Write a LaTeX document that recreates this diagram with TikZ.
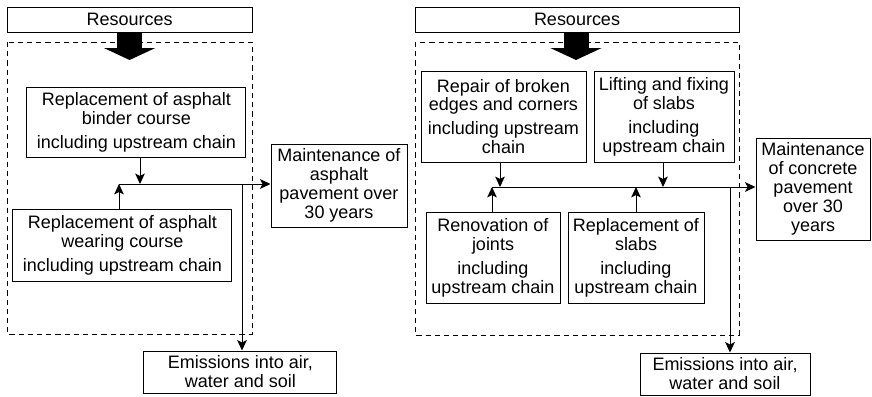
\documentclass[tikz,border=0pt]{standalone}
\usepackage{fontspec}
\setmainfont{Liberation Sans}
\usetikzlibrary{arrows.meta, positioning}

\begin{document}
\begin{tikzpicture}[
    font=\fontsize{12.8}{13.5}\selectfont,
    stage/.style={draw, line width=0.7pt, align=center, inner sep=0pt},
    frame/.style={line width=0.7pt, dash pattern=on 0.13cm off 0.1cm},
    flow/.style={line width=0.7pt, -{Stealth[length=0.26cm, width=0.24cm, inset=0.06cm]}},
    bigflow/.style={line width=0.625cm, -{Triangle[length=0.3cm, width=1.275cm]}}
  ]
    \useasboundingbox (0,0) rectangle (21.8,-9.9);

    % asphalt pavement
    \node[stage, minimum width=6.125cm, minimum height=0.625cm] (res1) at (3.24,-0.49) {Resources};
    \draw[frame] (0.175,-1.05) rectangle (6.3,-8.35);
    \coordinate (in1) at (3.24,-1.5);
    \draw[bigflow] (res1.south) -- (in1);
    \node[stage, minimum width=5.475cm, minimum height=1.75cm] (binder) at (3.41,-3.05)
        {Replacement of asphalt\\binder course\\[3.5pt]including upstream chain};
    \node[stage, minimum width=5.475cm, minimum height=1.8cm] (wearing) at (3.06,-6.125)
        {Replacement of asphalt\\wearing course\\[3.5pt]including upstream chain};
    \node[stage, minimum width=3.4cm, minimum height=2.075cm] (maint1) at (8.475,-4.6375)
        {Maintenance of\\asphalt\\pavement over\\30 years};
    \node[stage, minimum width=4.825cm, minimum height=1.05cm] (emis1) at (6.01,-9.3)
        {Emissions into air,\\water and soil};
    \coordinate (jL) at (2.975,-4.6);
    \coordinate (jB) at (3.5,-4.6);
    \coordinate (jE) at (6.05,-4.6);
    \draw[flow] (binder.south -| jB) -- (jB);
    \draw[flow] (wearing.north -| jL) -- (jL);
    \draw[flow] (jL) -- (jL -| maint1.west);
    \draw[flow] (jE) -- (jE |- emis1.north);

    % concrete pavement
    \node[stage, minimum width=8.1cm, minimum height=0.625cm] (res2) at (14.425,-0.49) {Resources};
    \draw[frame] (10.375,-1.05) rectangle (18.475,-8.375);
    \coordinate (in2) at (14.4,-1.5);
    \draw[bigflow] (res2.south -| in2) -- (in2);
    \node[stage, minimum width=4.125cm, minimum height=2.275cm] (repair) at (12.5875,-2.9125)
        {Repair of broken\\edges and corners\\[3.5pt]including upstream\\chain};
    \node[stage, minimum width=3.5cm, minimum height=2.275cm] (lifting) at (16.6,-2.9125)
        {Lifting and fixing\\of slabs\\[3.5pt]including\\upstream chain};
    \node[stage, minimum width=3.35cm, minimum height=2.275cm] (joints) at (12.325,-6.4375)
        {Renovation of\\joints\\[3.5pt]including\\upstream chain};
    \node[stage, minimum width=3.4cm, minimum height=2.275cm] (slabs) at (15.9,-6.4375)
        {Replacement of\\slabs\\[3.5pt]including\\upstream chain};
    \node[stage, minimum width=2.85cm, minimum height=2.55cm] (maint2) at (20.325,-4.725)
        {Maintenance\\of concrete\\pavement\\over 30\\years};
    \node[stage, minimum width=4.25cm, minimum height=1.05cm] (emis2) at (18.125,-9.35)
        {Emissions into air,\\water and soil};
    \coordinate (kL) at (12.3,-4.675);
    \coordinate (kR) at (12.5,-4.675);
    \coordinate (kS) at (15.9,-4.675);
    \coordinate (kF) at (16.575,-4.675);
    \coordinate (kE) at (18.25,-4.675);
    \draw[flow] (repair.south -| kR) -- (kR);
    \draw[flow] (lifting.south -| kF) -- (kF);
    \draw[flow] (joints.north -| kL) -- (kL);
    \draw[flow] (slabs.north -| kS) -- (kS);
    \draw[flow] (kL) -- (kL -| maint2.west);
    \draw[flow] (kE) -- (kE |- emis2.north);
\end{tikzpicture}
\end{document}
